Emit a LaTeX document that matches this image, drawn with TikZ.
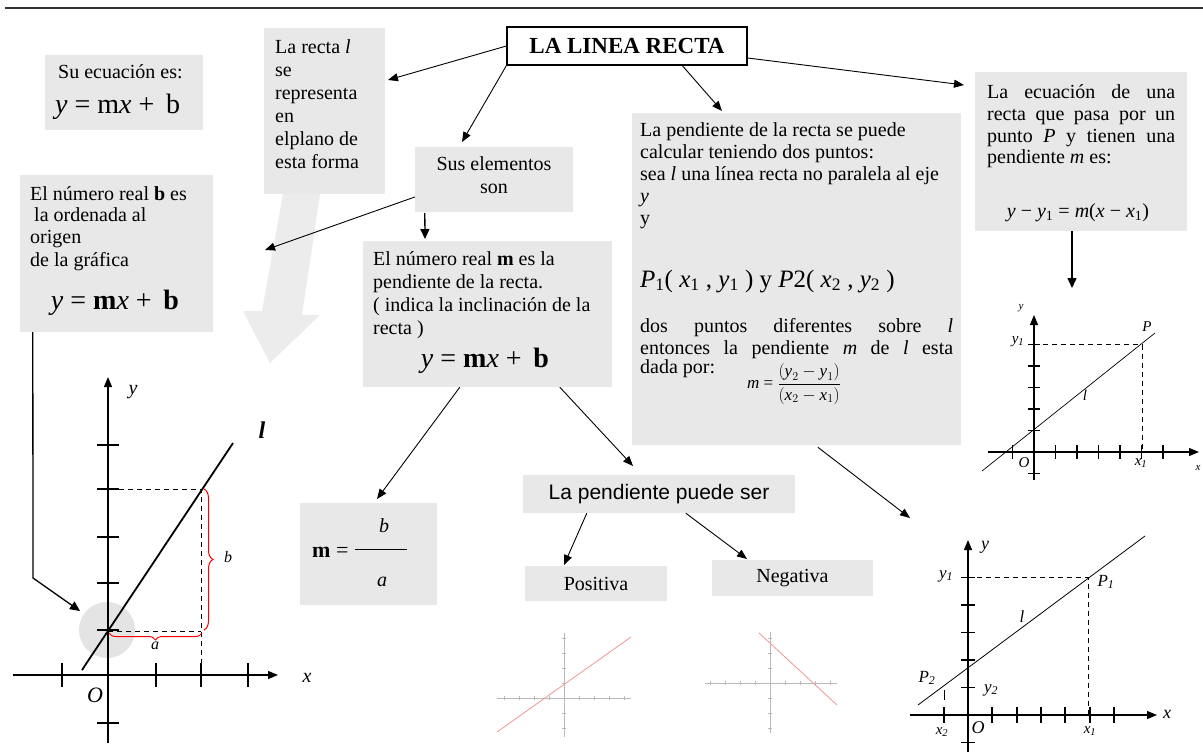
\documentclass[tikz,border=0pt]{standalone}
\usepackage{fontspec}
\setmainfont{Liberation Serif}
\newfontfamily\sansf{Liberation Sans}
\usetikzlibrary{arrows.meta,decorations.pathreplacing,calc}
\definecolor{boxgray}{RGB}{232,232,232}
\definecolor{arrowgray}{RGB}{236,236,236}
\definecolor{circgray}{RGB}{228,228,228}
\definecolor{lightred}{RGB}{240,150,150}
\definecolor{rulegray}{RGB}{50,50,50}
\begin{document}
\begin{tikzpicture}[x=1pt,y=-1pt,
  box/.style={fill=boxgray, draw=none, inner sep=0pt, rectangle},
  txt/.style={inner sep=0pt, font=\fontsize{20}{22}\selectfont, anchor=base west},
  fml/.style={inner sep=0pt, font=\fontsize{28}{30}\selectfont, anchor=base},
  lbl/.style={inner sep=0pt, font=\fontsize{15}{16}\selectfont\itshape},
  conn/.style={line width=0.9pt, -{Triangle[length=10pt,width=8pt]}},
  conn2/.style={line width=1.3pt, -{Triangle[length=10pt,width=9pt]}},
  ax/.style={line width=1.2pt, -{Triangle[length=10pt,width=8pt]}},
  tk/.style={line width=1.2pt},
  dsh/.style={dashed, line width=1pt, dash pattern=on 5pt off 4pt},
  sm/.style={gray!55, line width=0.6pt},
]
\useasboundingbox (0,0) rectangle (1203,753);
\fill[white] (0,0) rectangle (1203,753);
\draw[line width=2.2pt, rulegray] (5,8) -- (1203,8);

% big gray arrow
\fill[arrowgray] (283,194) -- (320,194) -- (302,315) -- (320,315) -- (270,363) -- (243,311) -- (262,311) -- cycle;

% boxes
\node[box, minimum width=158pt, minimum height=75pt] (su) at (124,92.5) {};
\node[box, minimum width=121pt, minimum height=166pt] (recta) at (324.5,111) {};
\node[draw, line width=1.3pt, fill=white, inner sep=0pt, minimum width=240pt, minimum height=38pt, font=\bfseries\fontsize{23}{25}\selectfont] (title) at (627,46) {LA LINEA RECTA};
\node[box, minimum width=158pt, minimum height=65pt] (sus) at (494,179.5) {};
\node[box, minimum width=329pt, minimum height=332pt] (pend) at (796.5,279) {};
\node[box, minimum width=212pt, minimum height=159pt] (ecua) at (1081,151.5) {};
\node[box, minimum width=193pt, minimum height=157pt] (bnum) at (116.5,253.5) {};
\node[box, minimum width=249pt, minimum height=146pt] (mnum) at (487.5,314) {};
\node[box, minimum width=137pt, minimum height=102pt] (mba) at (368.5,554) {};
\node[box, minimum width=272pt, minimum height=38pt, font=\sansf\fontsize{21}{23}\selectfont] (puede) at (659,494) {La pendiente puede ser};
\node[box, minimum width=142pt, minimum height=35pt, font=\fontsize{20}{22}\selectfont] (posi) at (596,583.5) {Positiva};
\node[box, minimum width=161pt, minimum height=36pt, font=\fontsize{20}{22}\selectfont] (nega) at (792.5,578) {Negativa};

% texts: Su ecuacion
\node[txt] (su1) at (58,78) {Su ecuación es:};
\node[fml, anchor=base west] (su2) at (55,113) {\textit{y} = m\textit{x} +\, b};

% La recta
\foreach \t [count=\i] in {{La recta \textit{l}}, se, representa, en, elplano de, esta forma}
  \node[txt] (r\i) at (275, 30+23*\i) {\t};

% b box
\node[txt] (b1) at (30,200) {El número real \textbf{b} es};
\node[txt] (b2) at (34,221) {la ordenada al};
\node[txt] (b3) at (30,243) {origen};
\node[txt] (b4) at (30,266) {de la gráfica};
\node[fml] (b5) at (115,309) {\textit{y} = \textbf{m}\textit{x} +\, \textbf{b}};

% Sus elementos
\node[txt, anchor=base] (s1) at (494,170) {Sus elementos};
\node[txt, anchor=base] (s2) at (494,193) {son};

% m box
\node[txt] (m1) at (373,265) {El número real \textbf{m} es la};
\node[txt] (m2) at (373,288) {pendiente de la recta.};
\node[txt] (m3) at (373,311) {( indica la inclinación de la};
\node[txt] (m4) at (373,334) {recta )};
\node[fml] (m5) at (485,367) {\textit{y} = \textbf{m}\textit{x} +\, \textbf{b}};

% pendiente box
\node[txt] (p1) at (640,136) {La pendiente de la recta se puede};
\node[txt] (p2) at (640,158) {calcular teniendo dos puntos:};
\node[txt] (p3) at (640,180) {sea \textit{l} una línea recta no paralela al eje};
\node[txt] (p4) at (640,202) {\textit{y}};
\node[txt] (p5) at (640,224) {y};
\node[txt, font=\fontsize{25}{27}\selectfont] (p6) at (640,287) {\textit{P}\textsubscript{1}( \textit{x}\textsubscript{1} , \textit{y}\textsubscript{1} ) y \textit{P}2( \textit{x}\textsubscript{2} , \textit{y}\textsubscript{2} )};
\node[txt] (p7) at (640,332) {\makebox[313pt][s]{dos puntos diferentes sobre \textit{l}}};
\node[txt] (p8) at (640,354) {\makebox[313pt][s]{entonces la pendiente \textit{m} de \textit{l} esta}};
\node[txt] (p9) at (640,373) {dada por:};
\node[inner sep=0pt, font=\fontsize{17}{19}\selectfont] (pf) at (794,384) {\textit{m} = $\displaystyle\frac{(\textit{y}_2-\textit{y}_1)}{(\textit{x}_2-\textit{x}_1)}$};

% ecuacion box
\node[txt] (e1) at (987,98) {\makebox[188pt][s]{La ecuación de una}};
\node[txt] (e2) at (987,120) {\makebox[188pt][s]{recta que pasa por un}};
\node[txt] (e3) at (987,142) {\makebox[188pt][s]{punto \textit{P} y tienen una}};
\node[txt] (e4) at (987,163) {pendiente \textit{m} es:};
\node[txt, anchor=base] (e5) at (1078,217) {\textit{y} − \textit{y}\textsubscript{1} = \textit{m}(\textit{x} − \textit{x}\textsubscript{1})};

% m = b/a
\node[txt, font=\fontsize{22}{24}\selectfont] (mb1) at (312,557) {\textbf{m} =};
\draw[line width=1pt] (355,549) -- (407,549);
\node[lbl, font=\fontsize{20}{22}\selectfont\itshape] (mb2) at (384,526) {b};
\node[lbl, font=\fontsize{20}{22}\selectfont\itshape] (mb3) at (382,582) {a};

% connectors
\coordinate (t1) at (388,80);
\draw[conn] (title.west) -- (t1);
\coordinate (t2) at (462,142);
\draw[conn] (title.south west) -- (t2);
\coordinate (t3) at (722,111);
\draw[conn] ($(title.south west)+(176,0)$) -- (t3);
\coordinate (t4) at (964,85);
\draw[conn] ($(title.east)+(0,12)$) -- (t4);
\coordinate (s1e) at (265,250);
\draw[conn] ($(sus.west)+(0,17.5)$) -- (s1e);
\coordinate (s2e) at (425,239);
\draw[conn2] ($(sus.south west)+(10,1)$) -- (s2e);
\coordinate (me1) at (377,499);
\draw[conn] ($(mnum.south west)+(97,0)$) -- (me1);
\coordinate (me2) at (633,466);
\draw[conn] ($(mnum.south west)+(197,0)$) -- (me2);
\coordinate (pe1) at (564,565);
\draw[conn] ($(puede.south west)+(64,0)$) -- (pe1);
\coordinate (pe2) at (747,559);
\draw[conn] ($(puede.south west)+(163,0)$) -- (pe2);
\coordinate (pe3) at (910,518);
\draw[conn] ($(pend.south west)+(186,2)$) -- (pe3);
\coordinate (ec1) at (1072,288);
\draw[conn2] ($(ecua.south)+(-9,0)$) -- (ec1);
\coordinate (bk1) at (33,578);
\coordinate (bk2) at (80,611);
\draw[conn2] ($(bnum.south west)+(13,0)$) -- (bk1) -- (bk2);

% ---- left graph ----
\fill[circgray] (107,630) circle[radius=28pt];
\draw[ax] (108,743) -- (108,377);
\draw[ax] (13,675) -- (278,675);
\foreach \yy in {445,489,537,583,630,723} \draw[tk] (97,\yy) -- (119,\yy);
\foreach \xx in {62,156,201,248} \draw[tk] (\xx,663) -- (\xx,687);
\draw[dsh] (119,489) -- (201,489) -- (201,663);
\draw[dsh] (108,631) -- (201,631);
\draw[line width=1.8pt] (82,670) -- (233,443);
\draw[red, line width=1pt, decorate, decoration={brace, amplitude=9pt}] (204,489) -- (204,630);
\draw[red, line width=1pt, decorate, decoration={brace, amplitude=7pt}] (202,633) -- (109,633);
\node[lbl, font=\fontsize{20}{22}\selectfont\itshape] (gy) at (133,392) {y};
\node[lbl, font=\fontsize{20}{22}\selectfont\itshape] (gx) at (307,678) {x};
\node[lbl, font=\fontsize{22}{24}\selectfont\itshape] (go) at (95,695) {O};
\node[lbl, font=\fontsize{24}{26}\selectfont\bfseries\itshape] (gl) at (262,430) {l};
\node[lbl, font=\fontsize{16}{18}\selectfont\itshape] (gb) at (228,557) {b};
\node[lbl, font=\fontsize{16}{18}\selectfont\itshape] (ga) at (155,646) {a};

% ---- top right graph ----
\draw[ax] (1034,480) -- (1034,315);
\draw[ax] (988,452) -- (1199,452);
\foreach \xx in {1012.5,1055.5,1077,1098.5,1120,1141.5,1163} \draw[tk] (\xx,445) -- (\xx,459);
\foreach \yy in {473.5,430.5,409,387.5,366,344.5} \draw[tk] (1028,\yy) -- (1040,\yy);
\draw[line width=0.7pt] (982,471) -- (1155,333);
\draw[dsh] (1034,344.5) -- (1142,344.5) -- (1142,452);
\node[lbl, font=\fontsize{11}{12}\selectfont\itshape] (ty) at (1021,308) {y};
\node[lbl] (ty1) at (1018,342) {y\textsubscript{1}};
\node[lbl] (tp) at (1147,327) {P};
\node[lbl] (tl) at (1085,395) {l};
\node[lbl] (to) at (1024,463) {O};
\node[lbl] (tx1) at (1141,463) {x\textsubscript{1}};
\node[lbl, font=\fontsize{11}{12}\selectfont\itshape] (tx) at (1198,468) {x};

% ---- bottom right graph ----
\draw[ax] (968,752) -- (968,540);
\draw[ax] (910,715) -- (1157,715);
\foreach \yy in {577.5,605,632.5,660,687.5,742.5} \draw[tk] (961,\yy) -- (975,\yy);
\foreach \xx in {944,992,1017,1041,1065,1090,1114} \draw[tk] (\xx,707) -- (\xx,723);
\draw[line width=0.8pt] (918,705) -- (1145,536);
\draw[dsh] (968,577.5) -- (1088,577.5) -- (1088,715);
\draw[line width=0.8pt] (944,690) -- (944,700);
\node[lbl, font=\fontsize{18}{20}\selectfont\itshape] (by) at (985,547) {y};
\node[lbl, font=\fontsize{17}{19}\selectfont\itshape] (by1) at (946,576) {y\textsubscript{1}};
\node[lbl, font=\fontsize{17}{19}\selectfont\itshape] (bp1) at (1106,582) {P\textsubscript{1}};
\node[lbl, font=\fontsize{17}{19}\selectfont\itshape] (bl) at (1022,617) {l};
\node[lbl, font=\fontsize{17}{19}\selectfont\itshape] (bp2) at (927,678) {P\textsubscript{2}};
\node[lbl, font=\fontsize{17}{19}\selectfont\itshape] (by2) at (991,690) {y\textsubscript{2}};
\node[lbl, font=\fontsize{15}{17}\selectfont\itshape] (bx2) at (942,732) {x\textsubscript{2}};
\node[lbl, font=\fontsize{18}{20}\selectfont\itshape] (bo) at (978,728) {O};
\node[lbl, font=\fontsize{15}{17}\selectfont\itshape] (bx1) at (1090,731) {x\textsubscript{1}};
\node[lbl, font=\fontsize{18}{20}\selectfont\itshape] (bx) at (1167,714) {x};

% ---- small graphs ----
\draw[sm] (564,633) -- (564,737);
\draw[sm] (497,698) -- (631,698);
\foreach \k in {-4,...,4} \draw[sm] (564+15*\k,696) -- (564+15*\k,700);
\foreach \k in {-2,...,4} \draw[sm] (562,698-15*\k) -- (566,698-15*\k);
\draw[lightred, line width=0.8pt] (497,732) -- (631,637);

\draw[sm] (770,632) -- (770,733);
\draw[sm] (705,683) -- (837,683);
\foreach \k in {-4,...,4} \draw[sm] (770+15*\k,681) -- (770+15*\k,685);
\foreach \k in {-3,...,3} \draw[sm] (768,683-15*\k) -- (772,683-15*\k);
\draw[lightred, line width=0.8pt] (759,633) -- (837,705);
\end{tikzpicture}
\end{document}
